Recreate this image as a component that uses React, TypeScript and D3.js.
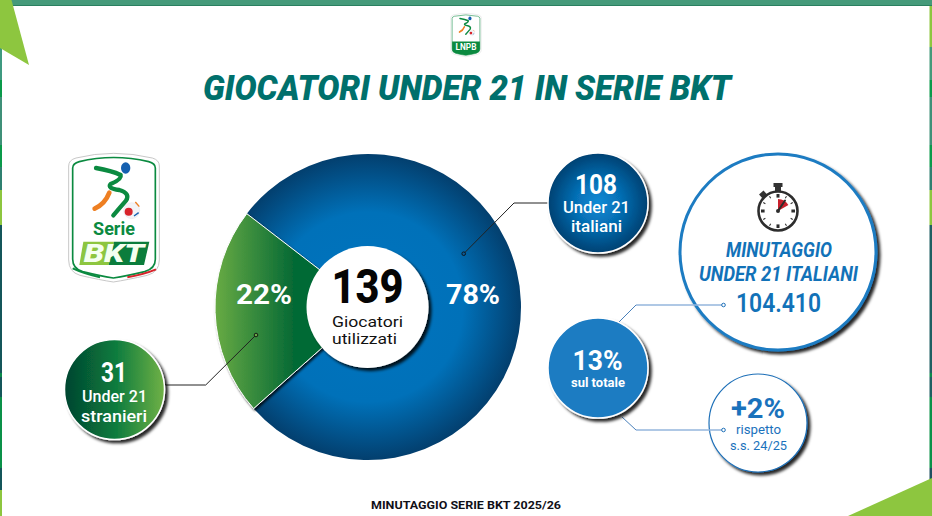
import React from "react";
import * as d3 from "d3";

const W = 932, H = 516;
const FONT = "Roboto, 'Open Sans', sans-serif";
const sliceValues = [78, 22];
const sliceLabels = ["78%", "22%"];
const totalPlayers = "139";
const titleText = "GIOCATORI UNDER 21 IN SERIE BKT";
const footerText = "MINUTAGGIO SERIE BKT 2025/26";
const rightStrip: [number, number, string][] = [
  [6, 47, "#8dc63f"], [47, 80, "#459a7a"], [80, 97, "#0a9a4a"], [97, 145, "#3f9078"],
  [145, 167, "#0a9a4a"], [167, 190, "#2f8070"], [190, 225, "#8dc63f"], [225, 373, "#1f5f62"],
  [373, 377, "#0a8a4a"], [377, 397, "#1f5f62"], [397, 468, "#0a9148"], [468, 480, "#1f5060"],
];
const leftStrip: [number, number, string][] = [
  [48, 80, "#3f9a80"], [80, 97, "#0a9a4a"], [97, 145, "#3f9078"], [145, 167, "#0a9a4a"],
  [167, 190, "#2f8070"], [190, 225, "#8dc63f"], [225, 373, "#14565a"], [373, 377, "#0a8a4a"],
  [377, 397, "#14565a"], [397, 468, "#0a9148"], [468, 490, "#14565a"], [490, 516, "#8dc63f"],
];

const BLUE = "#1e7bc2";

function T({ x, y, w, size, weight = 700, fill = "#fff", italic = false, anchor = "middle", children }: any) {
  return (
    <text x={x} y={y} fontSize={size} fontWeight={weight} fill={fill} fontFamily={FONT}
      fontStyle={italic ? "italic" : "normal"} textAnchor={anchor}
      textLength={w} lengthAdjust="spacingAndGlyphs">{children}</text>
  );
}

function Logo({ x, y, scale, small }: { x: number; y: number; scale: number; small?: boolean }) {
  const shield = "M56 78 Q56 60 78 54 Q190 26 307 54 Q328 60 328 78 L328 360 Q328 396 292 406 Q230 420 190 426 Q150 420 90 406 Q56 396 56 360 Z";
  const inner = "M68 84 Q68 70 88 65 Q190 40 296 65 Q316 70 316 84 L316 358 Q316 386 284 395 Q230 408 190 414 Q150 408 98 395 Q68 386 68 358 Z";
  return (
    <g transform={`translate(${x},${y}) scale(${scale})`}>
      <path d={shield} fill="#fff" stroke="#c8c8c8" strokeWidth={3} />
      <path d={inner} fill="#fff" stroke="#0b8a40" strokeWidth={5} />
      <ellipse cx={227} cy={84} rx={14} ry={17} fill="#1560b0" />
      <path d="M138 84 Q185 92 212 105 Q216 118 182 132 Q170 145 208 150 Q242 160 228 182 Q208 205 190 226"
        fill="none" stroke="#0b8a40" strokeWidth={13} strokeLinecap="round" strokeLinejoin="round" />
      <path d="M134 206 Q165 192 178 158" fill="none" stroke="#ee7f22" strokeWidth={14} strokeLinecap="round" />
      <circle cx={245} cy={212} r={24} fill="#f3f3f6" stroke="#d8d8e0" />
      <circle cx={236} cy={215} r={12} fill="#d8232a" />
      <path d="M252 228 L266 218" stroke="#1560b0" strokeWidth={4} />
      <path d="M256 186 L268 200" stroke="#ee7f22" strokeWidth={4} />
      {small ? (
        <g>
          <path d="M68 290 L316 290 L316 358 Q316 386 284 395 Q230 408 190 414 Q150 408 98 395 Q68 386 68 358 Z" fill="#0b8a40" />
          <text x={192} y={368} fontSize={74} fontWeight={700} fontFamily={FONT} fill="#fff" textAnchor="middle">LNPB</text>
        </g>
      ) : (
        <g>
          <text x={192} y={285} fontSize={54} fontWeight={700} fontFamily={FONT} fill="#0b8a40" textAnchor="middle">Serie</text>
          <path d="M100 305 L192 305 L176 375 L88 375 Z" fill="#8dc63f" />
          <path d="M192 305 L298 305 L282 375 L176 375 Z" fill="#0b7d3c" />
          <text x={192} y={367} fontSize={76} fontWeight={900} fontStyle="italic" fontFamily={FONT} fill="#f4fff0" textAnchor="middle" textLength={182} lengthAdjust="spacingAndGlyphs">BKT</text>
          <path d="M68 385 Q100 400 150 412" fill="none" stroke="#0b8a40" strokeWidth={6} />
          <path d="M232 412 Q285 402 318 388" fill="none" stroke="#d8232a" strokeWidth={6} />
        </g>
      )}
    </g>
  );
}

function Stopwatch({ cx, cy }: { cx: number; cy: number }) {
  const ticks = d3.range(12);
  const wedge = d3.arc()({ innerRadius: 0, outerRadius: 12, startAngle: 0, endAngle: Math.PI / 3 }) as string;
  return (
    <g transform={`translate(${cx},${cy})`}>
      <rect x={-3} y={-26} width={6} height={7} fill="#333" />
      <rect x={-4.5} y={-28} width={9} height={4} fill="#333" />
      <rect x={-3} y={-2} width={6} height={5} fill="#333" transform="rotate(-42) translate(0,-23)" />
      <circle r={19.5} fill="#fff" stroke="#2d2d2d" strokeWidth={2.6} />
      {ticks.map((i) => {
        const major = i % 3 === 0;
        return <rect key={i} x={major ? -1.5 : -0.5} y={-17} width={major ? 3 : 1} height={major ? 3.6 : 2.4}
          fill="#2d2d2d" transform={`rotate(${i * 30})`} />;
      })}
      <path d={wedge} fill="#c9202c" />
      <line x1={0} y1={0} x2={7} y2={-10.5} stroke="#2d2d2d" strokeWidth={2} strokeLinecap="round" />
      <circle r={2} fill="#2d2d2d" />
    </g>
  );
}

export default function App() {
  const cx = 368, cy = 307, R = 153;
  const pie = d3.pie<number>().sort(null).startAngle((-52.4 * Math.PI) / 180).endAngle((307.6 * Math.PI) / 180);
  const arcs = pie(sliceValues);
  const arc = d3.arc<d3.PieArcDatum<number>>().innerRadius(0).outerRadius(R);
  return (
    <svg width={W} height={H} viewBox={`0 0 ${W} ${H}`} style={{ position: "absolute", left: 0, top: 0, background: "#fff" }}>
      <defs>
        <radialGradient id="gBlue" gradientUnits="userSpaceOnUse" cx={0} cy={0} r={R}>
          <stop offset="0" stopColor="#0074bf" />
          <stop offset="0.62" stopColor="#0071b9" />
          <stop offset="1" stopColor="#033f6e" />
        </radialGradient>
        <linearGradient id="gGreen" gradientUnits="userSpaceOnUse" x1={-153} x2={-75} y1={0} y2={0}>
          <stop offset="0" stopColor="#68ab44" />
          <stop offset="1" stopColor="#066a35" />
        </linearGradient>
        <radialGradient id="g108">
          <stop offset="0" stopColor="#0c8bd6" />
          <stop offset="0.45" stopColor="#0670b6" />
          <stop offset="1" stopColor="#034172" />
        </radialGradient>
        <linearGradient id="g31">
          <stop offset="0" stopColor="#03452f" />
          <stop offset="0.5" stopColor="#0a7a3e" />
          <stop offset="1" stopColor="#70b145" />
        </linearGradient>
        <filter id="sh" x="-20%" y="-20%" width="150%" height="150%">
          <feDropShadow dx={3} dy={3} stdDeviation={1.6} floodColor="#000" floodOpacity={0.85} />
        </filter>
        <filter id="shS" x="-20%" y="-20%" width="150%" height="150%">
          <feDropShadow dx={1.5} dy={2} stdDeviation={1} floodColor="#000" floodOpacity={0.8} />
        </filter>
      </defs>

      <rect x={0} y={0} width={W} height={5} fill="#459a7a" />
      <rect x={0} y={5} width={W} height={1} fill="#2a8060" />
      {rightStrip.map(([a, b, c], i) => <rect key={i} x={929.5} y={a} width={2.5} height={b - a} fill={c} />)}
      {leftStrip.map(([a, b, c], i) => <rect key={i} x={0} y={a} width={2} height={b - a} fill={c} />)}
      <path d="M0 0 L11.5 0 L29 65 L0 48 Z" fill="#8dc63f" />
      <path d="M848 516 L932 478 L932 516 Z" fill="#8dc63f" />

      <Logo x={444.5} y={9} scale={0.112} small />
      <T x={467} y={100} w={528} size={35} weight={900} italic fill="#00706c">{titleText}</T>
      <Logo x={50} y={140} scale={1 / 3} />

      <g transform={`translate(${cx},${cy})`}>
        <path d={arc(arcs[0])!} fill="url(#gBlue)" />
        <path d={arc(arcs[1])!} fill="url(#gGreen)" stroke="#fff" strokeWidth={1} filter="url(#shS)" />
      </g>

      <circle cx={367.5} cy={307} r={61} fill="#fff" filter="url(#sh)" />
      <T x={367.5} y={303} w={72} size={49} weight={800} fill="#050505">{totalPlayers}</T>
      <T x={332} y={327} w={71} size={15} weight={400} fill="#111" anchor="start">Giocatori</T>
      <T x={332} y={344} w={65} size={15} weight={400} fill="#111" anchor="start">utilizzati</T>
      <T x={264} y={304} w={56} size={28}>{sliceLabels[1]}</T>
      <T x={473} y={304} w={54} size={28}>{sliceLabels[0]}</T>

      <path d="M463.7 253.7 L514 203 L549 203" fill="none" stroke="#222" strokeWidth={1} />
      <circle cx={463.7} cy={253.7} r={1.8} fill="#0a5a98" stroke="#111" strokeWidth={0.9} />
      <path d="M256 335 L205.7 385 L165 385" fill="none" stroke="#222" strokeWidth={1} />
      <circle cx={256} cy={335} r={1.8} fill="#6aa944" stroke="#111" strokeWidth={0.9} />

      <circle cx={598} cy={203} r={50} fill="url(#g108)" stroke="#fff" strokeWidth={1.5} filter="url(#sh)" />
      <T x={596} y={194} w={42} size={28}>108</T>
      <T x={596.5} y={213} w={67} size={16} weight={500}>Under 21</T>
      <T x={596.5} y={232} w={51} size={16} weight={500}>italiani</T>

      <circle cx={114.5} cy={389.5} r={50} fill="url(#g31)" stroke="#fff" strokeWidth={1.5} filter="url(#sh)" />
      <T x={114} y={382} w={26} size={28}>31</T>
      <T x={114.5} y={402} w={65} size={16} weight={500}>Under 21</T>
      <T x={114} y={422} w={66} size={16} weight={500}>stranieri</T>

      <circle cx={778} cy={252} r={98} fill="#fff" stroke={BLUE} strokeWidth={3} filter="url(#sh)" />
      <Stopwatch cx={778} cy={211} />
      <T x={779} y={257} w={106} size={21} italic fill="#1272b8">MINUTAGGIO</T>
      <T x={778.5} y={281} w={159} size={21} italic fill="#1272b8">UNDER 21 ITALIANI</T>
      <T x={778.5} y={312} w={85} size={26} weight={600} fill="#1272b8">104.410</T>

      <circle cx={758} cy={423} r={49} fill="#fff" stroke="#1e70b8" strokeWidth={1.2} filter="url(#sh)" />
      <T x={758} y={418} w={54} size={28} fill="#1a72bc">+2%</T>
      <T x={758.5} y={434} w={45} size={13} weight={400} fill="#1a72bc">rispetto</T>
      <T x={758.5} y={450} w={57} size={13} weight={400} fill="#1a72bc">s.s. 24/25</T>

      <path d="M619 322 L636 305" stroke="#1a5fa8" strokeWidth={0.8} fill="none" />
      <path d="M636 305 L722 305" stroke="#94b6dc" strokeWidth={1.5} fill="none" />
      <circle cx={723.5} cy={305} r={1.8} fill="#fff" stroke="#1e70b8" strokeWidth={1} />
      <path d="M622 417 L636 430" stroke="#1a5fa8" strokeWidth={0.8} fill="none" />
      <path d="M636 430 L722 430" stroke="#94b6dc" strokeWidth={1.5} fill="none" />
      <circle cx={723.5} cy={430} r={1.8} fill="#fff" stroke="#1e70b8" strokeWidth={1} />

      <circle cx={598} cy={368} r={50} fill={BLUE} stroke="#fff" strokeWidth={1.5} filter="url(#sh)" />
      <T x={597.5} y={370} w={50} size={28}>13%</T>
      <T x={598} y={387} w={54} size={12}>sul totale</T>

      <T x={466} y={509} w={190} size={11.5} fill="#101018">{footerText}</T>
    </svg>
  );
}
